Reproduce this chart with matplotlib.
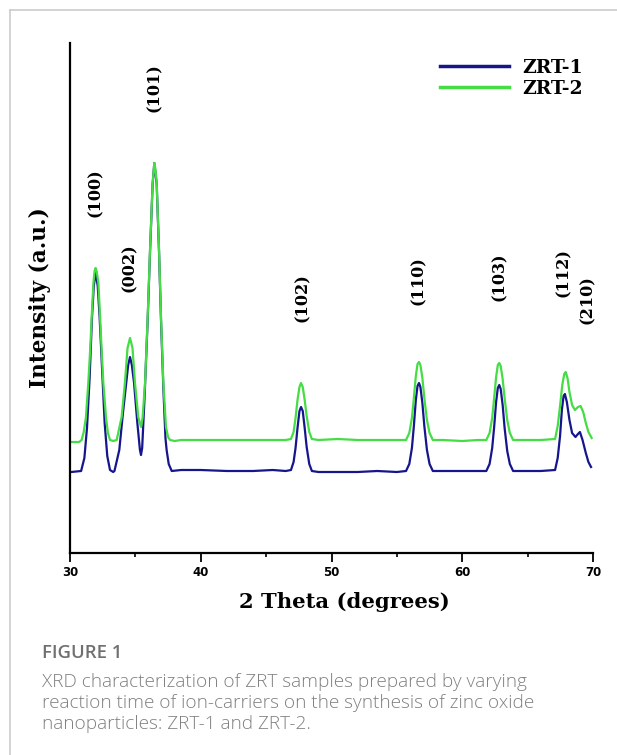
import matplotlib.pyplot as plt
from matplotlib.lines import Line2D
from matplotlib.ticker import MultipleLocator

# 2-theta / intensity (a.u.)
theta1 = [30.1, 30.85, 31.1, 31.3, 31.5, 31.68, 31.82, 31.96, 32.12, 32.27, 32.45, 32.65, 32.85, 33.06, 33.3,
          33.4, 33.77, 34.05, 34.3, 34.45, 34.59, 34.73, 34.9, 35.15, 35.35, 35.43,
          35.52, 35.7, 35.94, 36.12, 36.32, 36.45, 36.63, 36.81, 36.96, 37.14, 37.3, 37.39, 37.55, 37.78,
          38.5, 40.0, 42.0, 44.0, 45.5, 46.5,
          46.9, 47.1, 47.25, 47.4, 47.55, 47.67, 47.8, 47.95, 48.1, 48.3, 48.5,
          49.0, 50.5, 52.0, 53.5, 55.0,
          55.7, 55.95, 56.15, 56.3, 56.45, 56.58, 56.69, 56.8, 56.95, 57.1, 57.3, 57.5, 57.75,
          58.5, 60.0, 61.2,
          61.84, 62.09, 62.29, 62.44, 62.59, 62.72, 62.83, 62.94, 63.09, 63.24, 63.44, 63.64, 63.89,
          64.5, 66.0,
          67.1, 67.3, 67.48, 67.62, 67.75, 67.85, 68.0, 68.2, 68.4, 68.66, 68.85, 69.0, 69.2, 69.45,
          69.65, 69.85]
zrt1 = [76, 77, 90, 120, 170, 230, 262, 276, 262, 230, 180, 125, 92, 78, 76,
        77, 98, 135, 165, 183, 191, 183, 165, 125, 98, 93,
        100, 150, 228, 296, 364, 385, 364, 296, 228, 160, 110, 98, 84, 77,
        78, 78, 77, 77, 78, 77,
        78, 86, 100, 120, 137, 141, 137, 120, 101, 84, 77,
        76, 76, 76, 77, 76,
        77, 84, 100, 122, 148, 162, 165, 161, 145, 122, 98, 84, 77,
        77, 77, 77,
        77, 84, 100, 121, 146, 160, 163, 159, 143, 120, 97, 84, 77,
        77, 77,
        78, 90, 112, 138, 152, 154, 146, 128, 115, 111, 114, 116, 108, 95,
        86, 81]

theta2 = [30.1, 30.7, 30.89, 31.05, 31.22, 31.4, 31.55, 31.66, 31.79, 31.88, 31.96, 32.05, 32.17, 32.3,
          32.42, 32.55, 32.75, 32.9, 33.06, 33.3,
          33.57, 33.95, 34.2, 34.4, 34.59, 34.78, 34.97, 35.22, 35.43,
          35.55, 35.74, 35.94, 36.12, 36.32, 36.45, 36.54, 36.63, 36.81, 36.96, 37.14, 37.34, 37.5,
          37.65, 38.0,
          38.5, 40.0, 42.0, 44.0, 45.5, 46.5,
          46.9, 47.1, 47.25, 47.4, 47.55, 47.67, 47.8, 47.95, 48.1, 48.3, 48.5,
          49.0, 50.5, 52.0, 53.5, 55.0,
          55.7, 55.95, 56.15, 56.3, 56.45, 56.58, 56.69, 56.8, 56.95, 57.1, 57.3, 57.5, 57.75,
          58.5, 60.0, 61.2,
          61.84, 62.09, 62.29, 62.44, 62.59, 62.72, 62.83, 62.94, 63.09, 63.24, 63.44, 63.64, 63.89,
          64.5, 66.0,
          67.1, 67.3, 67.48, 67.65, 67.8, 67.91, 68.05, 68.2, 68.4, 68.62, 68.85, 69.05, 69.25, 69.45,
          69.65, 69.9]
zrt2 = [106, 106, 108, 116, 131, 165, 200, 231, 265, 277, 280, 276, 265, 231,
        198, 165, 131, 115, 108, 107,
        108, 131, 165, 200, 210, 200, 165, 131, 121,
        130, 165, 231, 298, 365, 385, 378, 365, 298, 231, 165, 121, 111,
        108, 107,
        108, 108, 108, 108, 108, 108,
        109, 116, 130, 148, 161, 165, 161, 148, 132, 116, 109,
        108, 109, 108, 108, 108,
        108, 115, 130, 150, 172, 184, 186, 183, 170, 150, 128, 115, 108,
        108, 107, 108,
        108, 115, 130, 150, 171, 183, 185, 182, 169, 150, 128, 115, 108,
        108, 108,
        109, 122, 142, 163, 174, 176, 170, 156, 143, 138, 141, 142, 136, 125,
        116, 110]

planes = ["(100)", "(002)", "(101)", "(102)", "(110)", "(103)", "(112)", "(210)"]
plane_x = [31.95, 34.55, 36.45, 47.8, 56.65, 62.85, 67.75, 69.55]
plane_y = [355, 280, 460, 250, 267, 271, 275, 248]

W, H = 617, 755
fig = plt.figure(figsize=(W / 100, H / 100), dpi=100)
ax = fig.add_axes([70 / W, (H - 553) / H, 523 / W, 510 / H])

ax.plot(theta1, zrt1, color="#16168c", lw=1.6, label="ZRT-1")
ax.plot(theta2, zrt2, color="#44dd44", lw=1.6, label="ZRT-2")

serif = "DejaVu Serif"
for lab, px, py in zip(planes, plane_x, plane_y):
    ax.text(px, py, lab, rotation=90, ha="center", va="center",
            fontsize=11.5, fontweight="bold", family=serif)

ax.set_xlim(30, 70)
ax.set_ylim(-5, 505)
ax.set_xticks([30, 40, 50, 60, 70])
ax.xaxis.set_minor_locator(MultipleLocator(5))
ax.set_yticks([])
for s in ["top", "right"]:
    ax.spines[s].set_visible(False)
ax.spines["left"].set_linewidth(1.6)
ax.spines["bottom"].set_linewidth(1.6)
ax.tick_params(axis="x", which="major", direction="out", length=6.5, width=1.3, labelsize=8.5, pad=3)
ax.tick_params(axis="x", which="minor", direction="out", length=3, width=1.2)
for t in ax.get_xticklabels():
    t.set_fontweight("bold")
ax.set_xlabel("2 Theta (degrees)", fontsize=15.2, fontweight="bold", family=serif)
ax.xaxis.set_label_coords((344.5 - 70) / 523, -(592 - 553) / 510)
ax.set_ylabel("Intensity (a.u.)", fontsize=15.6, fontweight="bold", family=serif, labelpad=14)

leg = ax.legend(loc="upper right", bbox_to_anchor=(0.995, 0.984), frameon=False, handlelength=3.7,
                handletextpad=0.7, prop={"family": serif, "weight": "bold", "size": 13.5},
                labelspacing=0.17, borderaxespad=0)
for ln in leg.get_lines():
    ln.set_linewidth(2.5)

# card border
fig.add_artist(Line2D([10 / W, 1], [1 - 10 / H, 1 - 10 / H], color="#cccccc", lw=1.2))
fig.add_artist(Line2D([10 / W, 10 / W], [0, 1 - 10 / H], color="#cccccc", lw=1.2))

fig.text(42 / W, 1 - 653 / H, "FIGURE 1", fontsize=13.3, fontweight="semibold",
         color="#707070", family="Open Sans", va="center")
caption = ("XRD characterization of ZRT samples prepared by varying\n"
           "reaction time of ion-carriers on the synthesis of zinc oxide\n"
           "nanoparticles: ZRT-1 and ZRT-2.")
fig.text(42 / W, 1 - 673 / H, caption, fontsize=13.7, color="#808080", fontweight="light",
         family="Open Sans", va="top", linespacing=1.22)

fig.savefig("out.png", dpi=100)
